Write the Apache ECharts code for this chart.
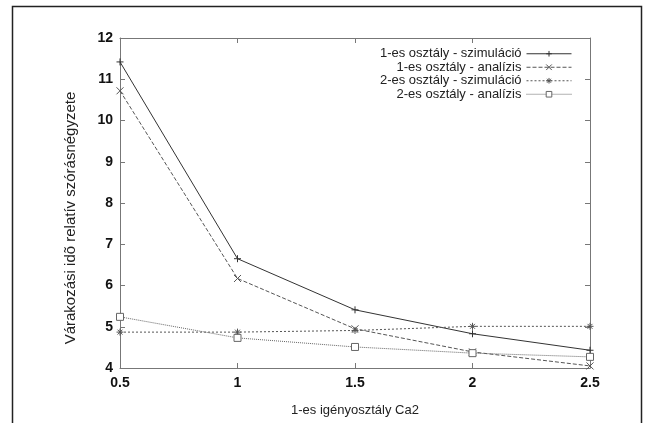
<!DOCTYPE html>
<html>
<head>
<meta charset="utf-8">
<script src="https://cdn.jsdelivr.net/npm/echarts@6/dist/echarts.min.js"></script>
<style>
  html, body { margin: 0; padding: 0; background: #fff; }
  #main { width: 655px; height: 423px; }
</style>
</head>
<body>
<div id="main"></div>
<script>
    // x értékek (Ca2)
    const ca2 = [0.5, 1, 1.5, 2, 2.5];
    // sorozatok
    const sim1 = [11.42, 6.65, 5.41, 4.83, 4.43];
    const ana1 = [10.72, 6.17, 4.95, 4.39, 4.05];
    const sim2 = [4.87, 4.87, 4.91, 5.01, 5.01];
    const ana2 = [5.24, 4.73, 4.51, 4.36, 4.27];
    const seriesNames = [
        '1-es osztály - szimuláció',
        '1-es osztály - analízis',
        '2-es osztály - szimuláció',
        '2-es osztály - analízis'
    ];
    const yTicks = [4, 5, 6, 7, 8, 9, 10, 11, 12];

    const pts = arr => ca2.map((x, i) => [x, arr[i]]);

    // gnuplot jellegű jelölők
    const plusSym = 'path://M0,5L10,5M5,0L5,10';
    const crossSym = 'path://M0,0L10,10M10,0L0,10';
    const starSym = 'path://M0,5L10,5M5,0L5,10M1.5,1.5L8.5,8.5M8.5,1.5L1.5,8.5';

    const font = '"Liberation Sans", Arial, sans-serif';

    function mkSeries(name, data, sym, color, type) {
        return {
            name: name,
            type: 'line',
            data: pts(data),
            symbol: sym,
            symbolSize: 7,
            lineStyle: { color: color, width: 1, type: type },
            itemStyle: { color: '#fff', borderColor: color, borderWidth: 1 },
            emphasis: { disabled: true },
            animation: false
        };
    }

    let myChart = echarts.init(document.getElementById('main'));
    let option = {
        backgroundColor: '#fff',
        animation: false,
        graphic: [{
            type: 'rect',
            shape: { x: 12.5, y: 6.5, width: 629, height: 430 },
            style: { fill: 'none', stroke: '#222', lineWidth: 1.5 },
            silent: true
        }],
        legend: {
            orient: 'vertical',
            align: 'right',
            right: 78,
            top: 42,
            itemWidth: 45,
            itemHeight: 7,
            itemGap: 0,
            lineStyle: { width: 1, type: 'inherit' },
            itemStyle: { borderWidth: 1 },
            textStyle: { fontFamily: font, fontSize: 13, color: '#222', lineHeight: 13.5 },
            data: seriesNames,
            selectedMode: false
        },
        grid: { left: 120, right: 65, top: 38, bottom: 55 },
        xAxis: [{
            type: 'value',
            min: 0.5,
            max: 2.5,
            interval: 0.5,
            name: '1-es igényosztály Ca2',
            nameLocation: 'middle',
            nameGap: 36,
            nameTextStyle: { fontFamily: font, fontSize: 13, color: '#222' },
            axisLine: { show: true, lineStyle: { color: '#777', width: 1 } },
            axisTick: { show: true, inside: true, length: 5, lineStyle: { color: '#777' } },
            axisLabel: { margin: 8, fontFamily: font, fontSize: 14, fontWeight: 'bold', color: '#111' },
            splitLine: { show: false }
        }, {
            type: 'value',
            position: 'top',
            min: 0.5,
            max: 2.5,
            interval: 0.5,
            axisLine: { show: true, lineStyle: { color: '#777', width: 1 } },
            axisTick: { show: true, inside: true, length: 5, lineStyle: { color: '#777' } },
            axisLabel: { show: false },
            splitLine: { show: false }
        }],
        yAxis: [{
            type: 'value',
            min: yTicks[0],
            max: yTicks[yTicks.length - 1],
            interval: 1,
            name: 'Várakozási idõ relatív szórásnégyzete',
            nameLocation: 'middle',
            nameGap: 42,
            nameTextStyle: { fontFamily: font, fontSize: 15, color: '#222', padding: [0, 30, 0, 0] },
            axisLine: { show: true, lineStyle: { color: '#777', width: 1 } },
            axisTick: { show: true, inside: true, length: 5, lineStyle: { color: '#777' } },
            axisLabel: { margin: 7, fontFamily: font, fontSize: 14, fontWeight: 'bold', color: '#111' },
            splitLine: { show: false }
        }, {
            type: 'value',
            position: 'right',
            min: yTicks[0],
            max: yTicks[yTicks.length - 1],
            interval: 1,
            axisLine: { show: true, lineStyle: { color: '#777', width: 1 } },
            axisTick: { show: true, inside: true, length: 5, lineStyle: { color: '#777' } },
            axisLabel: { show: false },
            splitLine: { show: false }
        }],
        series: [
            mkSeries(seriesNames[0], sim1, plusSym, '#333', 'solid'),
            mkSeries(seriesNames[1], ana1, crossSym, '#555', [4, 2]),
            mkSeries(seriesNames[2], sim2, starSym, '#555', [2, 2]),
            mkSeries(seriesNames[3], ana2, 'rect', '#666', [1, 1])
        ]
    };
    myChart.setOption(option);
</script>
</body>
</html>
